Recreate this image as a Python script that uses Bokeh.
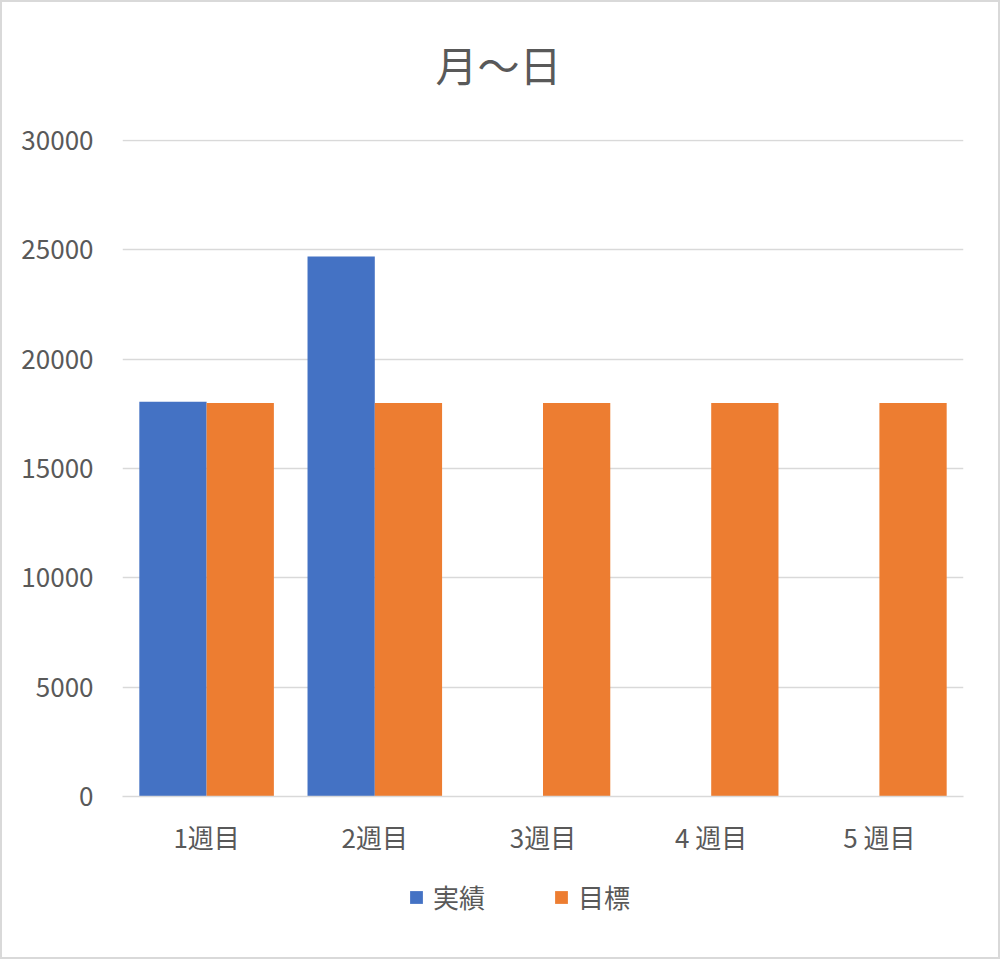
from bokeh.plotting import figure
from bokeh.layouts import column
from bokeh.models import (FactorRange, Range1d, SingleIntervalTicker, BasicTickFormatter,
                          Legend, LegendItem, ColumnDataSource)
from bokeh.core.properties import value
from bokeh.transform import dodge
from bokeh.embed import file_html
from bokeh.resources import INLINE

weeks = ["1週目", "2週目", "3週目", "4 週目", "5 週目"]
actual = [18050, 24700, 0, 0, 0]
target = [18000, 18000, 18000, 18000, 18000]
series_names = ["実績", "目標"]
colors = ["#4472C4", "#ED7D31"]
title_text = "月～日"

FONT = "Noto Sans CJK JP"
TXT = "#595959"
GRID = "#d9d9d9"
B = 2                      # chart border width
W = 1000 - 2 * B
H_TOP, H_MAIN, H_BOT = 118, 740, 959 - 2 * B - 118 - 740
FL, FR = 122 - B, 963 - B  # plot frame left/right (shared by the column layout)


def blank(h):
    f = figure(width=W, height=h, x_range=Range1d(FL, FR), y_range=Range1d(0, h),
               output_backend="svg", toolbar_location=None,
               x_axis_location=None, y_axis_location=None,
               min_border=0, min_border_left=FL, min_border_right=W - FR,
               min_border_top=0, min_border_bottom=0)
    f.title = None
    f.grid.visible = False
    f.outline_line_color = None
    f.background_fill_color = "white"
    f.border_fill_color = "white"
    return f


# ---- title strip ----
pt = blank(H_TOP)
pt.text(x=[498 - B], y=[H_TOP - (63 - B)], text=[title_text], text_align="center",
        text_baseline="middle", text_font=value(FONT), text_font_size="42px",
        text_color=TXT)

# ---- main chart ----
src = ColumnDataSource(dict(week=weeks, actual=actual, target=target))

p = figure(width=W, height=H_MAIN, x_range=FactorRange(factors=weeks, range_padding=0),
           y_range=Range1d(0, 30050), output_backend="svg", toolbar_location=None,
           min_border_left=FL, min_border_right=W - FR, min_border_top=(139 - B) - H_TOP,
           min_border_bottom=H_TOP + H_MAIN - (796 - B))
p.title = None
p.outline_line_color = None
p.background_fill_color = "white"
p.border_fill_color = "white"

r1 = p.vbar(x=dodge("week", -0.2, range=p.x_range), top="actual", width=0.4, source=src,
            fill_color=colors[0], line_color=None)
r2 = p.vbar(x=dodge("week", 0.2, range=p.x_range), top="target", width=0.4, source=src,
            fill_color=colors[1], line_color=None)

p.yaxis.ticker = SingleIntervalTicker(interval=5000)
p.yaxis.formatter = BasicTickFormatter(use_scientific=False)
p.yaxis.axis_line_color = None
p.yaxis.major_tick_line_color = None
p.yaxis.minor_tick_line_color = None
p.yaxis.major_tick_out = 0
p.yaxis.major_label_standoff = 25
p.yaxis.major_label_text_font = FONT
p.yaxis.major_label_text_font_size = "26px"
p.yaxis.major_label_text_color = TXT

p.xaxis.axis_line_color = GRID
p.xaxis.axis_line_width = 1.5
p.xaxis.major_tick_line_color = None
p.xaxis.major_tick_out = 0
p.xaxis.major_label_standoff = 21
p.xaxis.major_label_text_font = FONT
p.xaxis.major_label_text_font_size = "26px"
p.xaxis.major_label_text_color = TXT

p.xgrid.grid_line_color = None
p.ygrid.grid_line_color = GRID
p.ygrid.grid_line_width = 1.5

# ---- legend strip ----
pb = blank(H_BOT)
# off-range placeholder bars: only their styles feed the legend swatches
lr1 = pb.vbar(x=[-5000], top=[0], width=1, fill_color=colors[0], line_color=None)
lr2 = pb.vbar(x=[-5000], top=[0], width=1, fill_color=colors[1], line_color=None)
legend = Legend(items=[LegendItem(label=series_names[0], renderers=[lr1]),
                       LegendItem(label=series_names[1], renderers=[lr2])],
                orientation="horizontal", location=(408 - B - FL, 42),
                label_text_font=FONT, label_text_font_size="26px", label_text_color=TXT,
                glyph_width=16, glyph_height=16, label_standoff=9, spacing=23,
                label_width=97,
                border_line_color=None, background_fill_alpha=0,
                padding=0, margin=0)
pb.add_layout(legend, "center")

layout = column(pt, p, pb, spacing=0)
layout.styles = {"border": f"{B}px solid #d9d9d9", "box-sizing": "content-box"}

open("out.html", "w").write(file_html(layout, INLINE))
